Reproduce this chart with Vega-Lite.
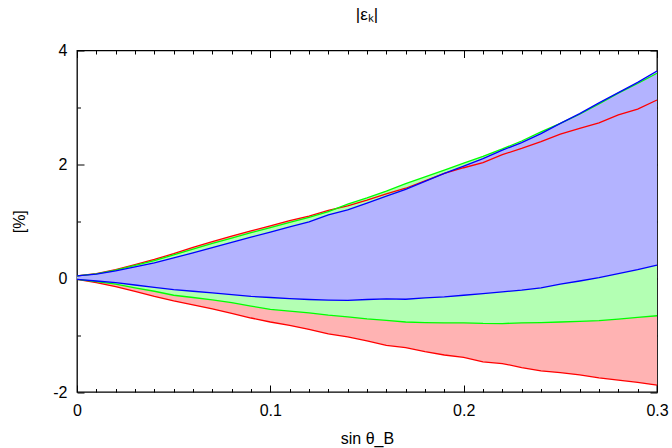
{
  "$schema": "https://vega.github.io/schema/vega-lite/v6.json",
  "width": 580,
  "height": 341.5,
  "autosize": "none",
  "padding": {"left": 77, "top": 50.5, "right": 15, "bottom": 56},
  "config": {
    "view": {"stroke": "#000000", "strokeWidth": 1.3},
    "font": "Liberation Sans",
    "axis": {"domain": false, "grid": false, "tickColor": "#000000", "labelColor": "#000000", "labelFont": "Liberation Sans", "labelFontSize": 16, "titleFont": "Liberation Sans", "titleFontSize": 16, "titleFontWeight": "normal", "titleColor": "#000000"}
  },
  "title": {"text": "|εₖ|", "fontSize": 17, "fontWeight": "normal", "font": "Liberation Sans", "color": "#000000", "offset": 19, "anchor": "middle"},
  "data": {"values": [
    {"x":0.00,"band":"red","hi":0.04,"lo":-0.02},{"x":0.01,"band":"red","hi":0.08,"lo":-0.08},{"x":0.02,"band":"red","hi":0.15,"lo":-0.15},{"x":0.03,"band":"red","hi":0.24,"lo":-0.23},{"x":0.04,"band":"red","hi":0.33,"lo":-0.32},{"x":0.05,"band":"red","hi":0.43,"lo":-0.40},{"x":0.06,"band":"red","hi":0.54,"lo":-0.47},{"x":0.07,"band":"red","hi":0.64,"lo":-0.54},{"x":0.08,"band":"red","hi":0.74,"lo":-0.62},{"x":0.09,"band":"red","hi":0.83,"lo":-0.70},{"x":0.10,"band":"red","hi":0.92,"lo":-0.77},
    {"x":0.11,"band":"red","hi":1.01,"lo":-0.83},{"x":0.12,"band":"red","hi":1.09,"lo":-0.90},{"x":0.13,"band":"red","hi":1.19,"lo":-0.98},{"x":0.14,"band":"red","hi":1.27,"lo":-1.03},{"x":0.15,"band":"red","hi":1.37,"lo":-1.10},{"x":0.16,"band":"red","hi":1.48,"lo":-1.18},{"x":0.17,"band":"red","hi":1.58,"lo":-1.22},{"x":0.18,"band":"red","hi":1.71,"lo":-1.29},{"x":0.19,"band":"red","hi":1.84,"lo":-1.35},{"x":0.20,"band":"red","hi":1.94,"lo":-1.39},
    {"x":0.21,"band":"red","hi":2.03,"lo":-1.47},{"x":0.22,"band":"red","hi":2.17,"lo":-1.50},{"x":0.23,"band":"red","hi":2.28,"lo":-1.57},{"x":0.24,"band":"red","hi":2.40,"lo":-1.63},{"x":0.25,"band":"red","hi":2.53,"lo":-1.66},{"x":0.26,"band":"red","hi":2.63,"lo":-1.70},{"x":0.27,"band":"red","hi":2.73,"lo":-1.75},{"x":0.28,"band":"red","hi":2.87,"lo":-1.79},{"x":0.29,"band":"red","hi":2.97,"lo":-1.83},{"x":0.30,"band":"red","hi":3.13,"lo":-1.88},
    {"x":0.00,"band":"green","hi":0.04,"lo":-0.02},{"x":0.01,"band":"green","hi":0.075,"lo":-0.06},{"x":0.02,"band":"green","hi":0.14,"lo":-0.105},{"x":0.03,"band":"green","hi":0.225,"lo":-0.17},{"x":0.04,"band":"green","hi":0.31,"lo":-0.23},{"x":0.05,"band":"green","hi":0.41,"lo":-0.30},{"x":0.06,"band":"green","hi":0.51,"lo":-0.34},{"x":0.07,"band":"green","hi":0.61,"lo":-0.38},{"x":0.08,"band":"green","hi":0.705,"lo":-0.43},{"x":0.09,"band":"green","hi":0.80,"lo":-0.49},{"x":0.10,"band":"green","hi":0.89,"lo":-0.55},
    {"x":0.11,"band":"green","hi":0.98,"lo":-0.58},{"x":0.12,"band":"green","hi":1.07,"lo":-0.61},{"x":0.13,"band":"green","hi":1.17,"lo":-0.65},{"x":0.14,"band":"green","hi":1.30,"lo":-0.68},{"x":0.15,"band":"green","hi":1.41,"lo":-0.715},{"x":0.16,"band":"green","hi":1.53,"lo":-0.74},{"x":0.17,"band":"green","hi":1.66,"lo":-0.77},{"x":0.18,"band":"green","hi":1.78,"lo":-0.78},{"x":0.19,"band":"green","hi":1.90,"lo":-0.785},{"x":0.20,"band":"green","hi":2.02,"lo":-0.785},
    {"x":0.21,"band":"green","hi":2.14,"lo":-0.795},{"x":0.22,"band":"green","hi":2.27,"lo":-0.797},{"x":0.23,"band":"green","hi":2.41,"lo":-0.785},{"x":0.24,"band":"green","hi":2.57,"lo":-0.78},{"x":0.25,"band":"green","hi":2.72,"lo":-0.77},{"x":0.26,"band":"green","hi":2.88,"lo":-0.76},{"x":0.27,"band":"green","hi":3.06,"lo":-0.745},{"x":0.28,"band":"green","hi":3.25,"lo":-0.72},{"x":0.29,"band":"green","hi":3.42,"lo":-0.69},{"x":0.30,"band":"green","hi":3.60,"lo":-0.66},
    {"x":0.00,"band":"blue","hi":0.04,"lo":-0.02},{"x":0.01,"band":"blue","hi":0.07,"lo":-0.05},{"x":0.02,"band":"blue","hi":0.13,"lo":-0.08},{"x":0.03,"band":"blue","hi":0.20,"lo":-0.12},{"x":0.04,"band":"blue","hi":0.27,"lo":-0.16},{"x":0.05,"band":"blue","hi":0.355,"lo":-0.20},{"x":0.06,"band":"blue","hi":0.445,"lo":-0.23},{"x":0.07,"band":"blue","hi":0.535,"lo":-0.26},{"x":0.08,"band":"blue","hi":0.63,"lo":-0.29},{"x":0.09,"band":"blue","hi":0.72,"lo":-0.32},{"x":0.10,"band":"blue","hi":0.81,"lo":-0.34},
    {"x":0.11,"band":"blue","hi":0.90,"lo":-0.36},{"x":0.12,"band":"blue","hi":0.99,"lo":-0.375},{"x":0.13,"band":"blue","hi":1.11,"lo":-0.385},{"x":0.14,"band":"blue","hi":1.20,"lo":-0.39},{"x":0.15,"band":"blue","hi":1.32,"lo":-0.375},{"x":0.16,"band":"blue","hi":1.44,"lo":-0.365},{"x":0.17,"band":"blue","hi":1.56,"lo":-0.37},{"x":0.18,"band":"blue","hi":1.70,"lo":-0.345},{"x":0.19,"band":"blue","hi":1.84,"lo":-0.33},{"x":0.20,"band":"blue","hi":1.97,"lo":-0.30},
    {"x":0.21,"band":"blue","hi":2.10,"lo":-0.27},{"x":0.22,"band":"blue","hi":2.25,"lo":-0.24},{"x":0.23,"band":"blue","hi":2.38,"lo":-0.21},{"x":0.24,"band":"blue","hi":2.54,"lo":-0.17},{"x":0.25,"band":"blue","hi":2.72,"lo":-0.105},{"x":0.26,"band":"blue","hi":2.89,"lo":-0.05},{"x":0.27,"band":"blue","hi":3.08,"lo":0.01},{"x":0.28,"band":"blue","hi":3.26,"lo":0.08},{"x":0.29,"band":"blue","hi":3.44,"lo":0.15},{"x":0.30,"band":"blue","hi":3.64,"lo":0.23}
  ]},
  "resolve": {"axis": {"x": "independent", "y": "independent"}},
  "layer": [
    {
      "transform": [{"filter": "datum.band === 'red'"}],
      "mark": {"type": "area", "color": "#ffb3b3", "strokeWidth": 0},
      "encoding": {
        "x": {"field": "x", "type": "quantitative", "scale": {"domain": [0, 0.3], "nice": false, "zero": false},
          "axis": {"orient": "bottom", "values": [0,0.01,0.02,0.03,0.04,0.05,0.06,0.07,0.08,0.09,0.1,0.11,0.12,0.13,0.14,0.15,0.16,0.17,0.18,0.19,0.2,0.21,0.22,0.23,0.24,0.25,0.26,0.27,0.28,0.29,0.3],
            "tickSize": {"condition": {"test": "abs(datum.value*10 - round(datum.value*10)) < 0.001", "value": -7}, "value": -3.5},
            "labelExpr": "abs(datum.value*10 - round(datum.value*10)) < 0.001 ? format(datum.value, '.1~f') : ''",
            "labelPadding": 17, "labelFlush": false, "labelOverlap": false,
            "title": "sin θ_B", "titleY": 46, "titleBaseline": "middle"}},
        "y": {"field": "hi", "type": "quantitative", "scale": {"domain": [-2, 4], "nice": false, "zero": false},
          "axis": {"orient": "left", "values": [-2,-1,0,1,2,3,4],
            "tickSize": {"condition": {"test": "datum.value % 2 == 0", "value": -7}, "value": -3.5},
            "labelExpr": "datum.value % 2 == 0 ? '' + datum.value : ''",
            "labelPadding": 17, "labelFlush": false, "labelOverlap": false,
            "title": "[%]", "titleX": -58, "titleY": 170.75, "titleAlign": "center", "titleBaseline": "middle", "titleAngle": -90}},
        "y2": {"field": "lo"}
      }
    },
    {
      "transform": [{"filter": "datum.band === 'green'"}],
      "mark": {"type": "area", "color": "#b3ffb3", "strokeWidth": 0},
      "encoding": {
        "x": {"field": "x", "type": "quantitative",
          "axis": {"orient": "top", "values": [0,0.01,0.02,0.03,0.04,0.05,0.06,0.07,0.08,0.09,0.1,0.11,0.12,0.13,0.14,0.15,0.16,0.17,0.18,0.19,0.2,0.21,0.22,0.23,0.24,0.25,0.26,0.27,0.28,0.29,0.3],
            "tickSize": {"condition": {"test": "abs(datum.value*10 - round(datum.value*10)) < 0.001", "value": -7}, "value": -3.5},
            "labels": false, "title": null}},
        "y": {"field": "hi", "type": "quantitative",
          "axis": {"orient": "right", "values": [-2,-1,0,1,2,3,4],
            "tickSize": {"condition": {"test": "datum.value % 2 == 0", "value": -7}, "value": -3.5},
            "labels": false, "title": null}},
        "y2": {"field": "lo"}
      }
    },
    {
      "transform": [{"filter": "datum.band === 'blue'"}],
      "mark": {"type": "area", "color": "#b3b3ff", "strokeWidth": 0},
      "encoding": {
        "x": {"field": "x", "type": "quantitative", "axis": null},
        "y": {"field": "hi", "type": "quantitative", "axis": null},
        "y2": {"field": "lo"}
      }
    },
    {
      "transform": [{"filter": "datum.band === 'red'"}, {"fold": ["hi", "lo"], "as": ["edge", "val"]}],
      "mark": {"type": "line", "color": "#ff0000", "strokeWidth": 1.3},
      "encoding": {
        "x": {"field": "x", "type": "quantitative", "axis": null},
        "y": {"field": "val", "type": "quantitative", "axis": null},
        "detail": {"field": "edge"}
      }
    },
    {
      "transform": [{"filter": "datum.band === 'green'"}, {"fold": ["hi", "lo"], "as": ["edge", "val"]}],
      "mark": {"type": "line", "color": "#00ff00", "strokeWidth": 1.3},
      "encoding": {
        "x": {"field": "x", "type": "quantitative", "axis": null},
        "y": {"field": "val", "type": "quantitative", "axis": null},
        "detail": {"field": "edge"}
      }
    },
    {
      "transform": [{"filter": "datum.band === 'blue'"}, {"fold": ["hi", "lo"], "as": ["edge", "val"]}],
      "mark": {"type": "line", "color": "#0000ff", "strokeWidth": 1.3},
      "encoding": {
        "x": {"field": "x", "type": "quantitative", "axis": null},
        "y": {"field": "val", "type": "quantitative", "axis": null},
        "detail": {"field": "edge"}
      }
    }
  ]
}
